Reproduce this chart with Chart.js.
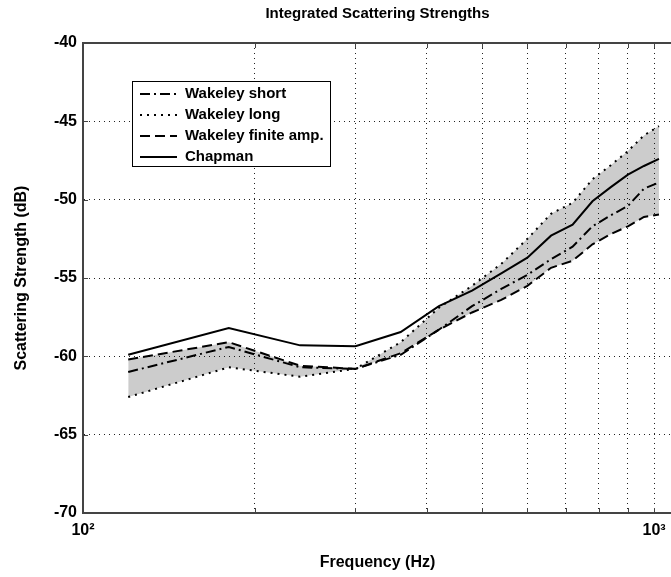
<!DOCTYPE html>
<html>
<head>
<meta charset="utf-8">
<title>Integrated Scattering Strengths</title>
<script src="https://cdn.jsdelivr.net/npm/chart.js@4.4.1/dist/chart.umd.min.js"></script>
<style>
  html, body { margin: 0; padding: 0; background: #fff; overflow: hidden; }
  #wrap { width: 700px; height: 577px; }
</style>
</head>
<body>
<div id="wrap"><canvas id="scatterChart" width="700" height="577"></canvas></div>
<script>
// frequencies (Hz) the curves were computed at
const freqs = [120, 180, 240, 300, 360, 420, 480, 540, 600, 660, 720, 780, 840, 900, 960, 1020];

// scattering strength in dB
const wakeleyShort  = [-61.0, -59.4, -60.7, -60.8, -59.9, -58.3, -56.8, -55.7, -54.8, -53.8, -53.0, -51.7, -51.0, -50.4, -49.3, -48.9];
const wakeleyLong   = [-62.6, -60.7, -61.3, -60.8, -59.1, -56.9, -55.5, -54.1, -52.5, -50.9, -50.2, -48.7, -47.8, -46.9, -45.9, -45.3];
const wakeleyFinite = [-60.2, -59.1, -60.6, -60.8, -59.8, -58.3, -57.2, -56.4, -55.5, -54.35, -53.9, -52.85, -52.2, -51.7, -51.1, -50.95];
const chapman       = [-59.9, -58.2, -59.3, -59.35, -58.45, -56.8, -55.8, -54.7, -53.7, -52.3, -51.6, -50.1, -49.2, -48.4, -47.85, -47.4];

const xTickValues = [100, 200, 300, 400, 500, 600, 700, 800, 900, 1000];
const yTickValues = [-70, -65, -60, -55, -50, -45, -40];
const legendLabels = ['Wakeley short', 'Wakeley long', 'Wakeley finite amp.', 'Chapman'];

const FONT = "'Liberation Sans', Arial, Helvetica, sans-serif";
const AXIS_COLOR = '#444';

function toPoints(ys) {
    return freqs.map((f, i) => ({ x: f, y: ys[i] }));
}

// frame top line, inward ticks, title and the boxed legend (MATLAB look)
const decorations = {
    id: 'decorations',
    afterDatasetsDraw(chart) {
        const ctx = chart.ctx;
        const area = chart.chartArea;
        const xs = chart.scales.x, ys = chart.scales.y;
        ctx.save();
        ctx.strokeStyle = AXIS_COLOR;
        ctx.lineWidth = 2;
        ctx.beginPath();
        ctx.moveTo(area.left - 1, area.top);
        ctx.lineTo(area.right + 1, area.top);
        ctx.stroke();

        ctx.lineWidth = 1;
        ctx.beginPath();
        yTickValues.forEach(v => {
            const y = Math.round(ys.getPixelForValue(v)) + 0.5;
            ctx.moveTo(area.left, y);
            ctx.lineTo(area.left + 5, y);
        });
        xTickValues.forEach(v => {
            const x = Math.round(xs.getPixelForValue(v)) + 0.5;
            ctx.moveTo(x, area.bottom);
            ctx.lineTo(x, area.bottom - 5);
            ctx.moveTo(x, area.top);
            ctx.lineTo(x, area.top + 5);
        });
        ctx.stroke();
        ctx.restore();
    },
    afterDraw(chart) {
        const ctx = chart.ctx;
        const area = chart.chartArea;
        ctx.save();
        ctx.fillStyle = '#000';
        ctx.font = 'bold 15px ' + FONT;
        ctx.textAlign = 'center';
        ctx.textBaseline = 'middle';
        ctx.fillText('Integrated Scattering Strengths', (area.left + area.right) / 2, 14);

        // legend
        const boxX = 132, boxY = 81, boxW = 198, boxH = 85, rowH = 21;
        ctx.fillStyle = '#fff';
        ctx.fillRect(boxX, boxY, boxW, boxH);
        ctx.strokeStyle = '#000';
        ctx.lineWidth = 1;
        ctx.setLineDash([]);
        ctx.strokeRect(boxX + 0.5, boxY + 0.5, boxW, boxH);
        ctx.textAlign = 'left';
        chart.data.datasets.forEach((ds, i) => {
            const y = boxY + 13 + i * rowH;
            ctx.save();
            ctx.strokeStyle = ds.borderColor;
            ctx.lineWidth = ds.borderWidth;
            ctx.setLineDash(ds.borderDash || []);
            ctx.beginPath();
            ctx.moveTo(boxX + 8, y);
            ctx.lineTo(boxX + 45, y);
            ctx.stroke();
            ctx.restore();
            ctx.fillStyle = '#000';
            ctx.fillText(ds.label, boxX + 53, y);
        });
        ctx.restore();
    }
};

const ctx = document.getElementById('scatterChart').getContext('2d');
const scatterChart = new Chart(ctx, {
    type: 'line',
    data: {
        datasets: [{
            label: legendLabels[0],
            data: toPoints(wakeleyShort),
            borderColor: '#000',
            borderWidth: 2,
            borderDash: [10, 4, 2, 4],
            fill: false
        }, {
            label: legendLabels[1],
            data: toPoints(wakeleyLong),
            borderColor: '#000',
            borderWidth: 2,
            borderDash: [2, 5],
            backgroundColor: 'rgba(0, 0, 0, 0.2)',
            fill: '+1' // shaded band down/up to the finite amplitude curve
        }, {
            label: legendLabels[2],
            data: toPoints(wakeleyFinite),
            borderColor: '#000',
            borderWidth: 2,
            borderDash: [10, 5],
            fill: false
        }, {
            label: legendLabels[3],
            data: toPoints(chapman),
            borderColor: '#000',
            borderWidth: 2,
            fill: false
        }]
    },
    options: {
        responsive: false,
        animation: false,
        devicePixelRatio: 1,
        layout: { padding: { top: 43, right: 28, left: 0, bottom: 0 } },
        elements: {
            point: { radius: 0 },
            line: { tension: 0, borderCapStyle: 'butt' }
        },
        plugins: {
            legend: { display: false },
            title: { display: false },
            tooltip: { enabled: false },
            filler: { drawTime: 'beforeDatasetsDraw' }
        },
        scales: {
            x: {
                type: 'logarithmic',
                min: 100,
                max: 1075,
                afterBuildTicks: function(scale) {
                    scale.ticks = xTickValues.map(v => ({ value: v }));
                },
                afterFit: function(scale) { scale.height = 64; },
                ticks: {
                    autoSkip: false,
                    maxRotation: 0,
                    padding: 8,
                    color: '#000',
                    font: { family: FONT, size: 16, weight: 'bold' },
                    callback: function(value) {
                        if (value === 100) return '10\u00b2';
                        if (value === 1000) return '10\u00b3';
                        return '';
                    }
                },
                grid: {
                    drawTicks: false,
                    lineWidth: 1,
                    color: c => (c.tick && c.tick.value === 100) ? 'rgba(0,0,0,0)' : '#222'
                },
                border: { display: true, color: AXIS_COLOR, width: 2, dash: [1, 4] },
                title: {
                    display: true,
                    text: 'Frequency (Hz)',
                    color: '#000',
                    font: { family: FONT, size: 16, weight: 'bold' },
                    padding: { top: 0, bottom: 5 }
                }
            },
            y: {
                min: -70,
                max: -40,
                afterFit: function(scale) { scale.width = 83; },
                ticks: {
                    stepSize: 5,
                    padding: 6,
                    color: '#000',
                    font: { family: FONT, size: 16, weight: 'bold' }
                },
                grid: {
                    drawTicks: false,
                    lineWidth: 1,
                    color: c => (c.tick && (c.tick.value === -40 || c.tick.value === -70)) ? 'rgba(0,0,0,0)' : '#222'
                },
                border: { display: true, color: AXIS_COLOR, width: 2, dash: [1, 4] },
                title: {
                    display: true,
                    text: 'Scattering Strength (dB)',
                    color: '#000',
                    font: { family: FONT, size: 16, weight: 'bold' },
                    padding: { top: 12, bottom: 0 }
                }
            }
        }
    },
    plugins: [decorations]
});
</script>
</body>
</html>
